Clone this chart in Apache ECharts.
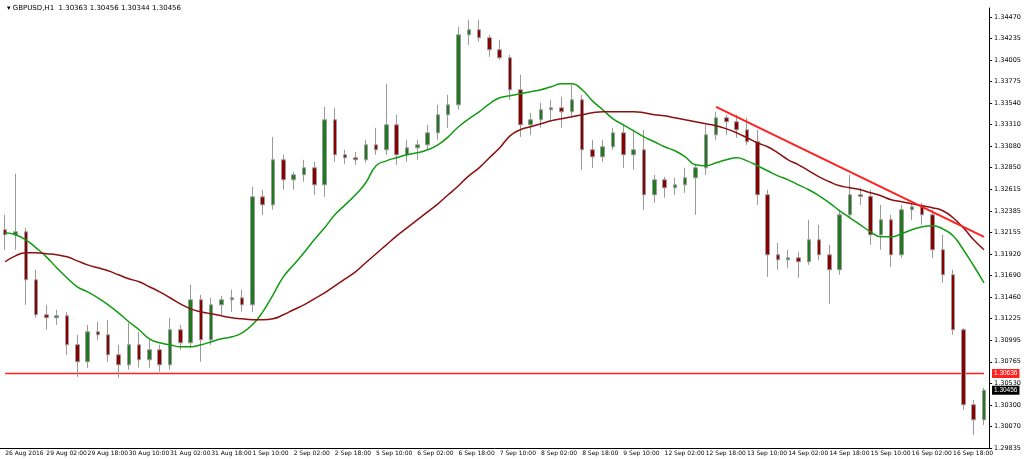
<!DOCTYPE html>
<html><head><meta charset="utf-8">
<script src="https://cdn.jsdelivr.net/npm/echarts@6/dist/echarts.min.js"></script>
<style>html,body{margin:0;padding:0;background:#fff}#c{width:1024px;height:459px}</style>
</head><body><div id="c"></div>
<script>
var tickLabels = ["26 Aug 2016","29 Aug 02:00","29 Aug 18:00","30 Aug 10:00","31 Aug 02:00","31 Aug 18:00","1 Sep 10:00","2 Sep 02:00","2 Sep 18:00","5 Sep 10:00","6 Sep 02:00","6 Sep 18:00","7 Sep 10:00","8 Sep 02:00","8 Sep 18:00","9 Sep 10:00","12 Sep 02:00","12 Sep 18:00","13 Sep 10:00","14 Sep 02:00","14 Sep 18:00","15 Sep 10:00","16 Sep 02:00","16 Sep 18:00"];
var priceLabels = ["1.29835","1.30070","1.30300","1.30530","1.30765","1.30995","1.31225","1.31460","1.31690","1.31920","1.32155","1.32385","1.32615","1.32850","1.33080","1.33310","1.33540","1.33775","1.34005","1.34235","1.34470"];
// [open, close, low, high]
var candles = [
[1.32181,1.32127,1.31966,1.32342],[1.32127,1.32159,1.31966,1.32783],[1.32159,1.31643,1.31374,1.32202],[1.31643,1.31267,1.31235,1.31751],
[1.31267,1.31235,1.31106,1.31374],[1.31235,1.31256,1.31159,1.31320],[1.31256,1.30945,1.30837,1.31299],[1.30945,1.30762,1.30600,1.31052],
[1.30762,1.31084,1.30697,1.31159],[1.31084,1.31052,1.30998,1.31192],[1.31052,1.30837,1.30762,1.31213],[1.30837,1.30729,1.30590,1.30945],
[1.30729,1.30945,1.30676,1.31181],[1.30945,1.30783,1.30697,1.31084],[1.30783,1.30891,1.30697,1.30998],[1.30891,1.30729,1.30654,1.30945],
[1.30729,1.31106,1.30676,1.31235],[1.31106,1.30966,1.30891,1.31159],[1.30966,1.31428,1.30912,1.31589],[1.31428,1.30998,1.30762,1.31481],
[1.30998,1.31374,1.30945,1.31449],[1.31374,1.31428,1.31267,1.31471],[1.31428,1.31449,1.31299,1.31536],[1.31449,1.31374,1.31299,1.31536],
[1.31374,1.32535,1.31299,1.32643],[1.32535,1.32449,1.32342,1.32611],[1.32449,1.32933,1.32396,1.33180],[1.32933,1.32718,1.32611,1.32987],
[1.32718,1.32772,1.32611,1.32804],[1.32772,1.32847,1.32697,1.32933],[1.32847,1.32664,1.32557,1.32911],[1.32664,1.33363,1.32535,1.33503],
[1.33363,1.32987,1.32911,1.33492],[1.32987,1.32955,1.32890,1.33041],[1.32955,1.32933,1.32879,1.33019],[1.32933,1.33094,1.32901,1.33148],
[1.33094,1.33041,1.32987,1.33277],[1.33041,1.33309,1.32987,1.33750],[1.33309,1.32987,1.32879,1.33417],[1.32987,1.33062,1.32911,1.33148],
[1.33062,1.33094,1.32933,1.33148],[1.33094,1.33223,1.33041,1.33309],[1.33223,1.33417,1.33148,1.33524],[1.33417,1.33524,1.33277,1.33632],
[1.33524,1.34277,1.33471,1.34363],[1.34277,1.34331,1.34169,1.34438],[1.34331,1.34245,1.34202,1.34438],[1.34245,1.34116,1.34040,1.34277],
[1.34116,1.34030,1.34008,1.34223],[1.34030,1.33686,1.33578,1.34062],[1.33686,1.33309,1.33180,1.33847],[1.33309,1.33363,1.33202,1.33438],
[1.33363,1.33471,1.33277,1.33546],[1.33471,1.33492,1.33363,1.33578],[1.33492,1.33449,1.33277,1.33610],[1.33449,1.33578,1.33385,1.33739],
[1.33578,1.33041,1.32826,1.33632],[1.33041,1.32965,1.32847,1.33148],[1.32965,1.33073,1.32911,1.33148],[1.33073,1.33223,1.33041,1.33277],
[1.33223,1.32987,1.32847,1.33309],[1.32987,1.33041,1.32826,1.33256],[1.33041,1.32557,1.32396,1.33256],[1.32557,1.32718,1.32471,1.32772],
[1.32718,1.32632,1.32525,1.32751],[1.32632,1.32664,1.32557,1.32740],[1.32664,1.32740,1.32578,1.32847],[1.32740,1.32847,1.32342,1.32879],
[1.32847,1.33202,1.32772,1.33309],[1.33202,1.33385,1.33148,1.33449],[1.33385,1.33342,1.33202,1.33417],[1.33342,1.33256,1.33170,1.33417],
[1.33256,1.33127,1.33094,1.33385],[1.33127,1.32557,1.32449,1.33256],[1.32557,1.31912,1.31675,1.32611],[1.31912,1.31858,1.31751,1.32041],
[1.31858,1.31880,1.31772,1.31966],[1.31880,1.31837,1.31665,1.31944],[1.31837,1.32073,1.31804,1.32288],[1.32073,1.31912,1.31858,1.32234],
[1.31912,1.31751,1.31385,1.32019],[1.31751,1.32342,1.31697,1.32396],[1.32342,1.32557,1.32310,1.32772],[1.32557,1.32540,1.32449,1.32632],
[1.32540,1.32127,1.32019,1.32611],[1.32127,1.32288,1.31966,1.32449],[1.32288,1.31912,1.31783,1.32342],[1.31912,1.32396,1.31880,1.32449],
[1.32396,1.32428,1.32288,1.32471],[1.32428,1.32342,1.32234,1.32471],[1.32342,1.31966,1.31880,1.32396],[1.31966,1.31697,1.31611,1.32127],
[1.31697,1.31106,1.31052,1.31751],[1.31106,1.30300,1.30246,1.31127],[1.30300,1.30138,1.29977,1.30353],[1.30138,1.30456,1.30084,1.30482]
];
var maFast = [1.32148,1.32127,1.32073,1.31987,1.31890,1.31772,1.31665,1.31568,1.31514,1.31450,
1.31374,1.31288,1.31192,1.31106,1.31009,1.30966,1.30944,1.30923,1.30923,1.30944,
1.30977,1.31009,1.31030,1.31073,1.31159,1.31299,1.31482,1.31675,1.31804,1.31933,
1.32073,1.32202,1.32342,1.32449,1.32557,1.32686,1.32869,1.32922,1.32955,1.32987,
1.33008,1.33041,1.33094,1.33180,1.33288,1.33374,1.33449,1.33535,1.33600,1.33621,
1.33643,1.33664,1.33686,1.33718,1.33750,1.33750,1.33686,1.33567,1.33471,1.33374,
1.33309,1.33245,1.33180,1.33127,1.33073,1.33030,1.32965,1.32879,1.32869,1.32901,
1.32933,1.32955,1.32922,1.32869,1.32815,1.32761,1.32718,1.32664,1.32611,1.32546,
1.32471,1.32385,1.32310,1.32234,1.32159,1.32105,1.32105,1.32138,1.32181,1.32213,
1.32224,1.32191,1.32116,1.31966,1.31794,1.31611];
var maSlow = [1.31837,1.31901,1.31933,1.31933,1.31923,1.31912,1.31890,1.31847,1.31804,1.31772,
1.31740,1.31697,1.31654,1.31622,1.31568,1.31514,1.31450,1.31385,1.31331,1.31299,
1.31278,1.31256,1.31235,1.31224,1.31213,1.31213,1.31224,1.31267,1.31321,1.31374,
1.31439,1.31503,1.31579,1.31654,1.31729,1.31826,1.31923,1.32019,1.32116,1.32202,
1.32288,1.32374,1.32460,1.32557,1.32654,1.32761,1.32847,1.32955,1.33062,1.33191,
1.33256,1.33288,1.33320,1.33352,1.33374,1.33395,1.33417,1.33438,1.33449,1.33449,
1.33449,1.33449,1.33438,1.33417,1.33406,1.33385,1.33363,1.33342,1.33320,1.33299,
1.33266,1.33223,1.33170,1.33116,1.33073,1.33008,1.32933,1.32879,1.32815,1.32750,
1.32697,1.32654,1.32632,1.32611,1.32578,1.32546,1.32503,1.32482,1.32460,1.32439,
1.32417,1.32385,1.32310,1.32202,1.32073,1.31966];
var trendStart = [69, 1.33503], trendEnd = [95, 1.32105];
var levelLine = 1.30636, lastPrice = 1.30456;
var header = "GBPUSD,H1  1.30363 1.30456 1.30344 1.30456";

var n = candles.length;
var categories = candles.map(function(_, i){ return i % 4 === 0 ? tickLabels[i/4] : String(i); });
var yMin = 1.29835, yStep = 0.0023175;
var chart = echarts.init(document.getElementById('c'));
var font = 'Tahoma, "DejaVu Sans", sans-serif';
var red = '#ff2020';
chart.setOption({
  animation:false,
  title:{text:'\u25BE ' + header, left:2, top:0, textStyle:{fontSize:7, fontWeight:'normal', color:'#000', fontFamily:font}},
  grid:{left:0, right:31, top:8, bottom:11},
  xAxis:{type:'category', data:categories, boundaryGap:true,
    axisLine:{lineStyle:{color:'#000'}},
    axisTick:{interval:3, length:3, lineStyle:{color:'#000'}},
    axisLabel:{interval:3, fontSize:6, color:'#000', margin:2, align:'left', fontFamily:font, hideOverlap:false,
      formatter:function(v){ return tickLabels.indexOf(v) >= 0 ? v : ''; }},
    splitLine:{show:false}},
  yAxis:{type:'value', position:'right', min:yMin, max:1.34565, interval:yStep,
    axisLine:{show:true, lineStyle:{color:'#000'}},
    axisTick:{show:true, length:3, lineStyle:{color:'#000'}},
    axisLabel:{fontSize:6.5, color:'#000', margin:5, fontFamily:font, showMaxLabel:false,
      formatter:function(v){ var k=Math.round((v-yMin)/yStep); if (Math.abs(v-(yMin+k*yStep))>1e-6) return ''; return priceLabels[k]||''; }},
    splitLine:{show:false}},
  series:[
    {type:'candlestick', data:candles, barWidth:4,
      itemStyle:{color:'#1f7a1f', color0:'#8b0000', borderColor:'#9a9a9a', borderColor0:'#9a9a9a', borderWidth:1}},
    {type:'line', data:maFast, symbol:'none', smooth:true, lineStyle:{color:'#129b12', width:1.5},
      markLine:{symbol:'none', silent:true, animation:false,
        lineStyle:{color:red, width:2, type:'solid'}, label:{show:false},
        data:[[{coord:trendStart}, {coord:trendEnd}]]}},
    {type:'line', data:maSlow, symbol:'none', smooth:true, lineStyle:{color:'#8b1010', width:1.5}},
    {name:'level', type:'line', data:candles.map(function(){ return levelLine; }), symbol:'none', silent:true,
      itemStyle:{color:red}, lineStyle:{color:red, width:1.5}, z:1,
      endLabel:{show:true, formatter:levelLine.toFixed(5), backgroundColor:red, color:'#fff', fontSize:6.5, padding:[1,2], distance:8}},
    {name:'last', type:'line', data:candles.map(function(c,i){ return i===n-1 ? lastPrice : null; }), symbol:'none', silent:true,
      lineStyle:{opacity:0},
      endLabel:{show:true, formatter:lastPrice.toFixed(5), backgroundColor:'#000', color:'#fff', fontSize:6.5, padding:[1,2], distance:8}}
  ]
});
</script></body></html>
